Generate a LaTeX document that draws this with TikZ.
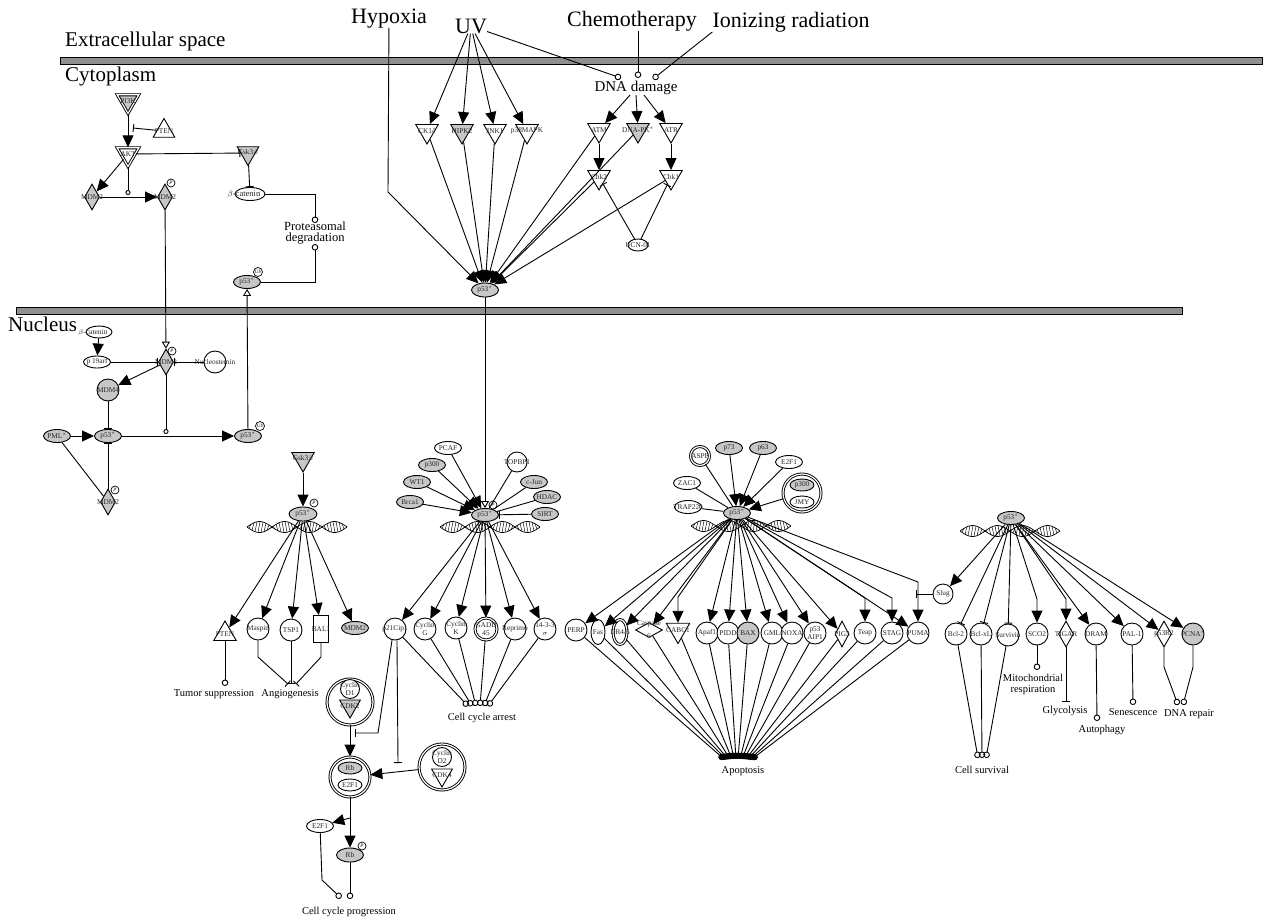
\documentclass[tikz,border=0pt]{standalone}
\usepackage{fontspec}
\setmainfont{Liberation Serif}
\usetikzlibrary{shapes.geometric,arrows.meta}
\definecolor{gfill}{gray}{0.78}
\definecolor{barfill}{gray}{0.56}
\newcommand\dnahelix[2]{%
  \begin{scope}[shift={(#1,#2)}]
    \draw[line width=0.7pt] plot[domain=-50:50,samples=80,smooth] (\x,{5.5*sin(\x*7.2)});
    \draw[line width=0.7pt] plot[domain=-50:50,samples=80,smooth] (\x,{-5.5*sin(\x*7.2)});
    \foreach \hx in {-48,-45,...,46}{
      \draw[line width=0.45pt] (\hx,{5.5*sin(\hx*7.2)}) -- ({\hx+2},{-5.5*sin((\hx+2)*7.2)});
    }
  \end{scope}}
\begin{document}
\begin{tikzpicture}[x=1pt,y=-1pt,
  every node/.style={font=\fontsize{7}{8}\selectfont},
  lbl/.style={font=\fontsize{7.3}{7.3}\selectfont, text=black!85, inner sep=0pt, align=center},
  tx/.style={label={[lbl]center:{#1}}},
  gene/.style={draw, line width=0.9pt, inner sep=0pt, fill=white},
  ell/.style={gene, ellipse, minimum width=27pt, minimum height=13pt},
  gell/.style={ell, fill=gfill},
  vell/.style={gene, ellipse, minimum width=14pt, minimum height=25pt},
  circ/.style={gene, circle, minimum size=22pt},
  gcirc/.style={circ, fill=gfill},
  itri/.style={gene, regular polygon, regular polygon sides=3, shape border rotate=180, minimum size=26pt},
  gitri/.style={itri, fill=gfill},
  utri/.style={gene, regular polygon, regular polygon sides=3, minimum size=26pt},
  dia/.style={gene, diamond, minimum width=15pt, minimum height=26pt},
  gdia/.style={dia, fill=gfill},
  dbl/.style={double, double distance=1.2pt},
  cplx/.style={gene, circle, dbl},
  pc/.style={draw, circle, line width=0.7pt, fill=white, inner sep=0pt, minimum size=8pt, font=\fontsize{5}{5}\selectfont\itshape},
  big/.style={font=\fontsize{21}{23}\selectfont, inner sep=0pt},
  bigs/.style={font=\fontsize{22}{24}\selectfont, inner sep=0pt},
  outtxt/.style={font=\fontsize{10.5}{11}\selectfont, inner sep=0pt, align=center},
  ln/.style={line width=0.9pt},
  act/.style={ln, -{Triangle[length=12pt,width=11pt]}},
  inh/.style={ln, -{Bar[width=8pt]}},
  oarr/.style={ln, -{Triangle[open,length=7pt,width=8pt]}},
  outc/.style={ln, -{Circle[open,length=6.5pt]}},
  outf/.style={ln, -{Circle[length=6.5pt]}},
  cat/.style={ln, -{Circle[open,length=5pt]}}
  ]
\fill[white] (0,0) rectangle (1263,919);
\useasboundingbox (0,0) rectangle (1263,919);

% membranes
\draw[line width=0.9pt, fill=barfill] (60,57) rectangle (1262,64);
\draw[line width=0.9pt, fill=barfill] (16,307) rectangle (1182,314);

% compartment and stimulus labels
\node[big, anchor=base west] (extxt) at (65,46) {Extracellular space};
\node[big, anchor=base west] (cytxt) at (65,81) {Cytoplasm};
\node[big, anchor=base west] (nuctxt) at (8,331) {Nucleus};
\node[bigs, anchor=base] (hypoxia) at (389,23) {Hypoxia};
\node[bigs, anchor=base] (uv) at (471,33) {UV};
\node[bigs, anchor=base] (chemo) at (632,26) {Chemotherapy};
\node[bigs, anchor=base] (ion) at (791,27) {Ionizing radiation};

% ---------------- cytoplasm left
\node[gitri, dbl, minimum size=25pt, tx=PI3K] (pi3k) at (128,101) {};
\node[utri, minimum size=25pt, tx=PTEN] (pten) at (164,131) {};
\node[itri, dbl, minimum size=25pt, tx=AKT] (akt) at (128,154) {};
\node[gitri, minimum size=25pt, tx={Gsk3$\beta$}] (gsk) at (248,153) {};
\node[ell, minimum width=30pt] (bcat) at (250,194) {};
\node[lbl, font=\fontsize{8.5}{9}\selectfont] (bcattx) at (244,194) {$\beta$-catenin};
\node[gdia, tx=MDM2] (mdm2a) at (92,197) {};
\node[gdia, tx=MDM2] (mdm2b) at (165,197) {};
\node[pc] (mdm2bp) at (171,183) {P};
\node[gell, tx={p53$^*$}] (p53c) at (247,282) {};
\node[pc, minimum size=9pt] (p53cub) at (258,272) {Ub};
\coordinate (ptenbar) at (133,128);
\coordinate (aktcat) at (128,195);
\coordinate (prot1) at (315,223);
\coordinate (prot2) at (315,244);
\node[font=\fontsize{12.5}{10.5}\selectfont, align=center, inner sep=0pt] (prottx) at (315,233) {Proteasomal\\degradation};

% ---------------- nucleus left
\node[ell, minimum width=26pt, minimum height=12pt] (bcatn) at (99,332) {};
\node[lbl, font=\fontsize{7.5}{8}\selectfont] (bcatntx) at (93,333) {$\beta$-catenin};
\node[ell, minimum height=12pt, tx={p 19arf}] (p19) at (97,362) {};
\node[gdia, tx=MDM2] (mdm2n) at (166,362) {};
\node[pc] (mdm2np) at (172,351) {P};
\node[circ, tx=Nucleostemin] (nucst) at (215,362) {};
\node[gcirc, tx=MDM4] (mdm4) at (108,390) {};
\node[gell, tx={PML$^*$}] (pml) at (57,436) {};
\node[gell, tx={p53$^*$}] (p53n) at (108,436) {};
\node[gell, tx={p53$^*$}] (p53ub) at (248,436) {};
\node[pc, minimum size=9pt] (p53ubu) at (260,426) {Ub};
\node[gdia, tx=MDM2] (mdm2n2) at (108,502) {};
\node[pc] (mdm2n2p) at (115,490) {P};
\coordinate (mdm2cat) at (166,434);

% ---------------- Gsk3b / p53 branch
\node[gitri, tx={Gsk3$\beta$}] (gsk2) at (303,459) {};
\node[gell, minimum width=28pt, minimum height=14pt, tx={p53$^*$}] (p53g) at (303,514) {};
\node[pc] (p53gp) at (314,503) {P};
\dnahelix{297}{527}
\node[utri, tx=PTEN] (ptenb) at (225,634) {};
\node[circ, tx=Maspin] (maspin) at (258,629) {};
\node[circ, tx=TSP1] (tsp1) at (291,630) {};
\node[gene, rectangle, minimum width=15pt, minimum height=27pt, tx=BAL1] (bal1) at (321,629) {};
\node[gell, tx=MDM2] (mdm2g) at (355,628) {};
\coordinate (tumc) at (225,686);
\coordinate (angm) at (288,684);
\coordinate (angt) at (291,684);
\coordinate (angb) at (296,684);
\node[outtxt] (tumtx) at (214,694) {Tumor suppression};
\node[outtxt] (angtx) at (290,694) {Angiogenesis};

% ---------------- cell cycle arrest
\node[gell, tx={p53$^*$}] (p53cc) at (485,515) {};
\node[pc] (p53ccp) at (493,505) {P};
\node[ell, tx=PCAF] (pcaf) at (448,448) {};
\node[gell, tx=p300] (p300a) at (432,465) {};
\node[gell, tx=WT1] (wt1) at (417,482) {};
\node[gell, tx=Brca1] (brca1) at (410,502) {};
\node[circ, minimum size=20pt, tx=TOPBP1] (topbp1) at (517,462) {};
\node[gell, tx=c-Jun] (cjun) at (534,482) {};
\node[gell, tx=HDAC] (hdac) at (547,497) {};
\node[gell, tx=SIRT] (sirt) at (545,514) {};
\dnahelix{490}{527}
\node[circ, tx=p21Cip1] (p21) at (395,629) {};
\node[circ, tx={Cyclin\\G}] (cycg) at (425,629) {};
\node[circ, tx={Cyclin\\K}] (cyck) at (456,628) {};
\node[circ, dbl, tx={GADD\\45}] (gadd) at (486,629) {};
\node[circ, tx=Reprimo] (reprimo) at (515,629) {};
\node[circ, tx={14-3-3\\$\sigma$}] (s1433) at (545,629) {};
\foreach \i in {1,...,6} \coordinate (cca\i) at ({464+4*\i},706);
\node[outtxt] (ccatx) at (482,718) {Cell cycle arrest};

% ---------------- Rb
\node[cplx, minimum size=46pt] (cd1) at (350,702) {};
\node[circ, minimum size=19pt, tx={Cyclin\\D1}] (cycd1) at (350,689) {};
\node[gitri, minimum size=24pt, tx=CDK2] (cdk2) at (350,706) {};
\node[cplx, minimum size=40pt] (rbc) at (350,777) {};
\node[gell, minimum width=24pt, minimum height=12pt, tx=Rb] (rb1) at (350,768) {};
\node[ell, minimum width=24pt, minimum height=12pt, tx=E2F1] (e2f1a) at (350,785) {};
\node[cplx, minimum size=46pt] (cd2) at (442,767) {};
\node[circ, minimum size=19pt, tx={Cyclin\\D2}] (cycd2) at (442,757) {};
\node[itri, minimum size=24pt, tx=CDK4] (cdk4) at (442,775) {};
\node[ell, tx=E2F1] (e2f1b) at (320,826) {};
\node[gell, minimum width=27pt, minimum height=14pt, tx=Rb] (rbp) at (350,855) {};
\node[pc] (rbpp) at (362,846) {P};
\coordinate (p21b1) at (378,733);
\coordinate (p21bar1) at (355,733);
\coordinate (p21bar2) at (398,763);
\coordinate (rbbranch) at (350,818);
\coordinate (ccp1) at (341,898);
\coordinate (ccp2) at (350,899);
\node[outtxt] (ccptx) at (349,912) {Cell cycle progression};

% ---------------- top stress kinases
\node[itri, tx={CK1$\delta$}] (ck1) at (427,131) {};
\node[gitri, tx=HIPK2] (hipk2) at (462,131) {};
\node[itri, tx=JNK1] (jnk1) at (495,131) {};
\node[itri, tx=p38MAPK] (p38) at (527,131) {};
\node[itri, tx=ATM] (atm) at (599,130) {};
\node[gitri, tx={DNA-PK$^*$}] (dnapk) at (638,130) {};
\node[itri, tx=ATR] (atr) at (671,130) {};
\node[itri, tx=Chk2] (chk2) at (599,177) {};
\node[itri, tx=Chk1] (chk1) at (671,177) {};
\node[ell, minimum width=20pt, minimum height=12pt, tx=UCN-01] (ucn) at (638,245) {};
\node[gell, minimum width=27pt, minimum height=14pt, tx={p53$^*$}] (p53top) at (485,290) {};
\node[font=\fontsize{15}{16}\selectfont, inner sep=0pt] (ddtx) at (636,88) {DNA damage};
\coordinate (dd1) at (621,78);
\coordinate (dd2) at (638,78);
\coordinate (dd3) at (653,79);
\coordinate (hypb) at (388,192);

% ---------------- apoptosis
\node[gell, tx={p53$^*$}] (p53ap) at (737,513) {};
\node[circ, dbl, minimum size=19pt, tx=ASPP] (aspp) at (700,456) {};
\node[gell, tx=p73] (p73) at (729,448) {};
\node[gell, tx=p63] (p63) at (763,448) {};
\node[ell, tx=E2F1] (e2f1c) at (789,462) {};
\node[ell, tx=ZAC1] (zac1) at (687,483) {};
\node[ell, tx=TRAP220] (trap) at (688,507) {};
\node[cplx, minimum size=38pt] (pjmy) at (802,493) {};
\node[gell, minimum width=24pt, minimum height=12pt, tx=p300] (p300b) at (802,485) {};
\node[ell, minimum width=24pt, minimum height=12pt, tx=JMY] (jmy) at (802,502) {};
\dnahelix{741}{526}
\node[circ, tx=PERP] (perp) at (576,630) {};
\node[vell, tx=Fas] (fas) at (598,632) {};
\node[vell, dbl, tx={DR4/5}] (dr45) at (620,632) {};
\node[dia, minimum width=27pt, minimum height=15pt, label={[lbl, font=\fontsize{7.3}{13}\selectfont]center:{Caspase\\6}}] (casp6) at (649,630) {};
\node[itri, minimum size=27pt, tx=CABC1] (cabc1) at (678,630) {};
\node[circ, tx=Apaf1] (apaf1) at (707,633) {};
\node[circ, tx=PIDD] (pidd) at (728,633) {};
\node[gcirc, tx=BAX] (bax) at (748,633) {};
\node[circ, tx=GML] (gml) at (772,633) {};
\node[circ, tx=NOXA] (noxa) at (792,633) {};
\node[circ, tx={p53\\AIP1}] (aip1) at (815,633) {};
\node[dia, minimum width=14pt, minimum height=26pt, tx=PIG3] (pig3) at (842,634) {};
\node[circ, tx=Teap] (teap) at (865,633) {};
\node[circ, tx=STAG] (stag) at (892,633) {};
\node[circ, tx=PUMA] (puma) at (918,633) {};
\node[circ, minimum size=20pt, tx=Slug] (slug) at (943,594) {};
\coordinate (cabcb) at (678,597);
\coordinate (teapb) at (865,598);
\coordinate (stagb) at (892,598);
\coordinate (pumab) at (918,582);
\coordinate (slugbar) at (916,594);
\foreach \i in {1,...,15} \coordinate (apo\i) at ({722+2*\i},759);
\node[outtxt] (apotx) at (743,771) {Apoptosis};

% ---------------- survival / metabolism
\node[gell, tx={p53$^*$}] (p53r) at (1011,518) {};
\dnahelix{1010}{531}
\node[circ, tx=Bcl-2] (bcl2) at (956,634) {};
\node[circ, tx=Bcl-xL] (bclxl) at (981,634) {};
\node[circ, tx=Survivin] (survivin) at (1008,635) {};
\node[circ, tx=SCO2] (sco2) at (1037,634) {};
\node[dia, tx=TIGAR] (tigar) at (1066,634) {};
\node[circ, tx=DRAM] (dram) at (1096,634) {};
\node[circ, tx=PAL-1] (pal1) at (1132,634) {};
\node[dia, tx=p53R2] (p53r2) at (1164,634) {};
\node[gcirc, tx={PCNA$^*$}] (pcna) at (1193,634) {};
\coordinate (sco2b) at (1037,599);
\coordinate (tigarb) at (1066,599);
\coordinate (cs1) at (978,758);
\coordinate (cs2) at (982,758);
\coordinate (cs3) at (986,758);
\coordinate (mito) at (1037,670);
\coordinate (glyc) at (1066,702);
\coordinate (autoc) at (1097,721);
\coordinate (senc) at (1133,705);
\coordinate (dr1) at (1178,705);
\coordinate (dr2) at (1183,705);
\node[outtxt] (mitotx) at (1033,684) {Mitochondrial\\respiration};
\node[outtxt] (glytx) at (1065,711) {Glycolysis};
\node[outtxt] (autotx) at (1102,730) {Autophagy};
\node[outtxt] (sentx) at (1133,712) {Senescence};
\node[outtxt] (drtx) at (1189,714) {DNA repair};
\node[outtxt] (cstx) at (982,770) {Cell survival};

% ================= connectors
% cytoplasm
\draw[act] (pi3k) -- (akt);
\draw[inh] (pten) -- (ptenbar);
\draw[inh] (akt) -- (gsk);
\draw[inh] (gsk) -- (bcat);
\draw[outc] (bcat.east) -| (prot1);
\draw[outc] (p53c.east) -| (prot2);
\draw[act] (akt) -- (mdm2a);
\draw[act] (mdm2a) -- (mdm2b);
\draw[cat] (akt.south) -- (aktcat);
\draw[oarr] (mdm2b) -- (mdm2n);
% nucleus left
\draw[act] (bcatn) -- (p19);
\draw[inh] (p19) -- (mdm2n);
\draw[inh] (nucst) -- (mdm2n);
\draw[act] (mdm2n) -- (mdm4);
\draw[inh] (mdm4) -- (p53n);
\draw[act] (pml) -- (p53n);
\draw[act] (p53n) -- (p53ub);
\draw[cat] (mdm2n) -- (mdm2cat);
\draw[inh] (mdm2n2) -- (p53n);
\draw[ln] (pml) -- (mdm2n2);
\draw[oarr] (p53ub) -- (p53c);
% gsk3b branch
\draw[act] (gsk2) -- (p53g);
\foreach \n in {ptenb,maspin,tsp1,bal1,mdm2g} \draw[act] (p53g) -- (\n);
\draw[outc] (ptenb) -- (tumc);
\draw[inh] (maspin) -- ++(0,28) -- (angm);
\draw[inh] (tsp1) -- (angt);
\draw[inh] (bal1) -- ++(0,28) -- (angb);
% top stimuli
\draw[act] (hypoxia) -- (hypb) -- (p53top);
\foreach \n in {ck1,hipk2,jnk1,p38} \draw[act] (uv) -- (\n);
\draw[outc] (uv) -- (dd1);
\draw[outc] (chemo.south -| dd2) -- (dd2);
\draw[outc] (ion.south west) -- (dd3);
\draw[act] ([xshift=-6pt]ddtx.south) -- (atm);
\draw[act] (ddtx.south) -- (dnapk);
\draw[act] ([xshift=8pt]ddtx.south) -- (atr);
\draw[act] (atm) -- (chk2);
\draw[act] (atr) -- (chk1);
\draw[inh] (ucn) -- (chk2);
\draw[inh] (ucn) -- (chk1);
\foreach \n in {ck1,hipk2,jnk1,p38,atm,dnapk,chk2,chk1} \draw[act] (\n) -- (p53top);
\draw[oarr] (p53top) -- (p53cc);
% cell cycle arrest
\foreach \n in {pcaf,p300a,wt1,brca1} \draw[act] (\n) -- (p53cc);
\foreach \n in {topbp1,cjun,hdac} \draw[ln] (\n) -- (p53cc);
\draw[inh] (sirt) -- (p53cc);
\foreach \n in {p21,cycg,cyck,gadd,reprimo,s1433} \draw[act] (p53cc) -- (\n);
\foreach \n [count=\i] in {p21,cycg,cyck,gadd,reprimo,s1433} \draw[outc] (\n) -- (cca\i);
% Rb
\draw[act] (cd1) -- (rbc);
\draw[act] (cd2) -- (rbc);
\draw[inh] (p21.255) -- (p21b1) -- (p21bar1);
\draw[inh] (p21.280) -- (p21bar2);
\draw[act] (rbc) -- (rbp);
\draw[act] (rbbranch) -- (e2f1b);
\draw[outc] (e2f1b) -- ++(2,54) -- (ccp1);
\draw[outc] (rbp) -- (ccp2);
% apoptosis
\foreach \n in {p73,p63,e2f1c,pjmy} \draw[act] (\n) -- (p53ap);
\foreach \n in {aspp,zac1,trap} \draw[ln] (\n) -- (p53ap);
\foreach \n in {perp,fas,dr45,casp6,apaf1,pidd,bax,gml,noxa,aip1,pig3,puma} \draw[act] (p53ap) -- (\n);
\draw[act] (p53ap) -- (cabcb) -- (cabc1);
\draw[act] (p53ap) -- (teapb) -- (teap);
\draw[act] (p53ap) -- (stagb) -- (stag);
\draw[act] (p53ap) -- (pumab) -- (puma);
\draw[inh] (slug) -- (slugbar);
\foreach \n [count=\i] in {perp,fas,dr45,casp6,cabc1,apaf1,pidd,bax,gml,noxa,aip1,pig3,teap,stag,puma} \draw[outf] (\n) -- (apo\i);
% survival
\draw[act] (p53r) -- (slug);
\foreach \n in {bcl2,bclxl,survivin} \draw[inh] (p53r) -- (\n);
\draw[act] (p53r) -- (sco2b) -- (sco2);
\draw[act] (p53r) -- (tigarb) -- (tigar);
\foreach \n in {dram,pal1,p53r2,pcna} \draw[act] (p53r) -- (\n);
\draw[outc] (bcl2) -- (cs1);
\draw[outc] (bclxl) -- (cs2);
\draw[outc] (survivin) -- (cs3);
\draw[outc] (sco2) -- (mito);
\draw[inh] (tigar) -- (glyc);
\draw[outc] (dram) -- (autoc);
\draw[outc] (pal1) -- (senc);
\draw[outc] (p53r2) -- ++(0,33) -- (dr1);
\draw[outc] (pcna) -- ++(0,33) -- (dr2);
\end{tikzpicture}
\end{document}
